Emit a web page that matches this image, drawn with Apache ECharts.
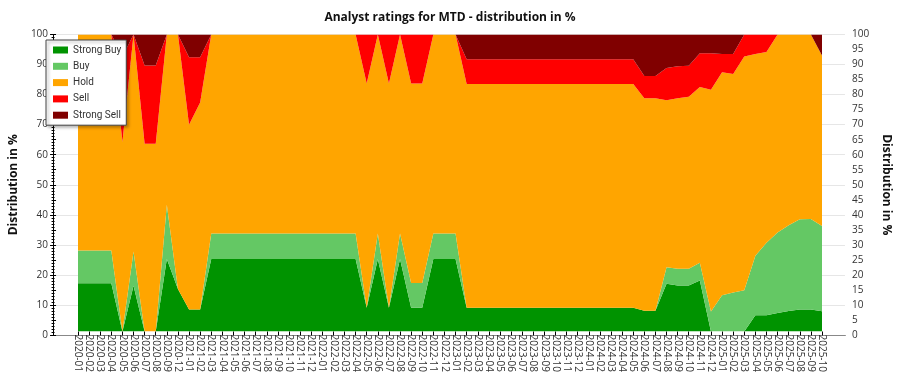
<!DOCTYPE html>
<html>
<head>
<meta charset="utf-8">
<script src="https://cdn.jsdelivr.net/npm/echarts@6/dist/echarts.min.js"></script>
<style>
html,body{margin:0;padding:0;background:#fff;}
#chart{width:900px;height:375px;}
</style>
</head>
<body>
<div id="chart"></div>
<script>
const categories = ["2020-01","2020-02","2020-03","2020-04","2020-05","2020-06","2020-07","2020-08","2020-09","2020-12",
"2021-01","2021-02","2021-03","2021-04","2021-05","2021-06","2021-07","2021-08","2021-09","2021-10","2021-11","2021-12",
"2022-01","2022-02","2022-03","2022-04","2022-05","2022-06","2022-07","2022-08","2022-09","2022-10","2022-11","2022-12",
"2023-01","2023-02","2023-03","2023-04","2023-05","2023-06","2023-07","2023-08","2023-09","2023-10","2023-11","2023-12",
"2024-01","2024-02","2024-03","2024-04","2024-05","2024-06","2024-07","2024-08","2024-09","2024-10","2024-11","2024-12",
"2025-01","2025-02","2025-03","2025-04","2025-05","2025-06","2025-07","2025-08","2025-09","2025-10"];

const strongBuy = [16.2,16.2,16.2,16.2,0,15.4,0,0,24.4,14.3,
7.4,7.4,24.4,24.4,24.4,24.4,24.4,24.4,24.4,24.4,24.4,24.4,
24.4,24.4,24.4,24.4,8.0,24.4,8.0,24.4,8.0,8.0,24.4,24.4,
24.4,8.0,8.0,8.0,8.0,8.0,8.0,8.0,8.0,8.0,8.0,8.0,
8.0,8.0,8.0,8.0,8.0,7.0,7.0,16.1,15.5,15.5,17.2,0,
0,0,0,5.5,5.5,6.2,6.9,7.4,7.4,6.8];

const buy = [11.1,11.1,11.1,11.1,0,11.5,0,0,18.3,0,
0,0,8.6,8.6,8.6,8.6,8.6,8.6,8.6,8.6,8.6,8.6,
8.6,8.6,8.6,8.6,0,8.6,0,8.6,8.3,8.3,8.6,8.6,
8.6,0,0,0,0,0,0,0,0,0,0,0,
0,0,0,0,0,0,0,5.5,5.6,5.6,5.9,6.7,
12.2,13.1,13.9,20.0,24.4,27.1,28.9,30.4,30.5,28.7];

const hold = [72.7,72.7,72.7,72.7,63.8,73.1,63.2,63.2,57.3,85.7,
62.2,69.7,67.0,67.0,67.0,67.0,67.0,67.0,67.0,67.0,67.0,67.0,
67.0,67.0,67.0,67.0,75.5,67.0,75.5,67.0,67.2,67.2,67.0,67.0,
67.0,75.3,75.3,75.3,75.3,75.3,75.3,75.3,75.3,75.3,75.3,75.3,
75.3,75.3,75.3,75.3,75.3,71.5,71.5,56.3,57.4,57.9,59.2,74.7,
75.1,73.6,78.7,67.9,64.2,66.7,64.2,62.2,62.1,57.4];

const sell = [0,0,0,0,28.8,0,26.4,26.4,0,0,
22.7,15.2,0,0,0,0,0,0,0,0,0,0,
0,0,0,0,16.5,0,16.5,0,16.5,16.5,0,0,
0,8.4,8.4,8.4,8.4,8.4,8.4,8.4,8.4,8.4,8.4,8.4,
8.4,8.4,8.4,8.4,8.4,7.5,7.5,10.8,10.8,10.5,11.4,12.3,
6.1,6.7,7.4,6.6,5.9,0,0,0,0,0];

const strongSell = [0,0,0,0,7.4,0,10.4,10.4,0,0,
7.7,7.7,0,0,0,0,0,0,0,0,0,0,
0,0,0,0,0,0,0,0,0,0,0,0,
0,8.3,8.3,8.3,8.3,8.3,8.3,8.3,8.3,8.3,8.3,8.3,
8.3,8.3,8.3,8.3,8.3,14.0,14.0,11.3,10.7,10.5,6.3,6.3,
6.6,6.6,0,0,0,0,0,0,0,7.1];

const seriesNames = ["Strong Buy","Buy","Hold","Sell","Strong Sell"];
const seriesColors = ["#009300","#64c864","#ffa500","#ff0000","#800000"];
const seriesData = [strongBuy, buy, hold, sell, strongSell];
const title = "Analyst ratings for MTD - distribution in %";
const axisName = "Distribution in %";

const FONT = "'Open Sans', 'Noto Sans', sans-serif";
const chart = echarts.init(document.getElementById('chart'), null, {renderer: 'canvas'});

const series = seriesNames.map((n, k) => ({
  name: n,
  type: 'line',
  stack: 'total',
  xAxisIndex: 2,
  yAxisIndex: 2,
  data: seriesData[k],
  showSymbol: false,
  symbol: 'none',
  lineStyle: {width: 0},
  areaStyle: {color: seriesColors[k], opacity: 1},
  color: seriesColors[k],
  animation: false
}));

chart.setOption({
  animation: false,
  textStyle: {fontFamily: FONT},
  title: {
    text: title,
    left: 'center',
    top: 7,
    textStyle: {fontSize: 12, fontWeight: 'bold', color: '#111', fontFamily: FONT}
  },
  legend: {
    orient: 'vertical',
    left: 46,
    top: 40,
    data: seriesNames,
    itemWidth: 15,
    itemHeight: 7,
    itemGap: 4.3,
    padding: [4, 5, 4, 7],
    backgroundColor: '#fff',
    borderColor: '#444',
    borderWidth: 1,
    shadowColor: 'rgba(0,0,0,0.35)',
    shadowBlur: 3,
    shadowOffsetX: 2,
    shadowOffsetY: 2,
    icon: 'rect',
    textStyle: {fontSize: 10, lineHeight: 12, color: '#333', fontFamily: "Roboto, 'Open Sans', sans-serif"},
    selectedMode: false
  },
  grid: [
    {left: 40, right: 41, top: 34.5, bottom: 40},
    {left: 78, right: 78, top: 34.5, bottom: 40}
  ],
  xAxis: [
    {gridIndex: 0, type: 'value', min: 0, max: 1, position: 'bottom',
     axisLine: {show: true, lineStyle: {color: '#000', width: 1}},
     axisTick: {show: false}, axisLabel: {show: false}, splitLine: {show: false}},
    {gridIndex: 0, type: 'value', min: 0, max: 1, position: 'top',
     axisLine: {show: true, lineStyle: {color: '#888', width: 1}},
     axisTick: {show: false}, axisLabel: {show: false}, splitLine: {show: false}},
    {gridIndex: 1, type: 'category', data: categories, boundaryGap: false, position: 'bottom',
     axisLine: {show: false},
     axisTick: {show: true, length: 4, interval: 0, lineStyle: {color: '#000'}},
     axisLabel: {show: true, interval: 0, rotate: -90, fontSize: 10, color: '#333', margin: 3, fontFamily: FONT},
     splitLine: {show: false}}
  ],
  yAxis: [
    {gridIndex: 0, type: 'value', position: 'left', min: 0, max: 100, interval: 10,
     name: axisName, nameLocation: 'middle', nameGap: 29,
     nameTextStyle: {fontSize: 12, fontWeight: 'bold', color: '#111', fontFamily: FONT},
     axisLine: {show: true, lineStyle: {color: '#000'}},
     axisTick: {show: true, length: 3, lineStyle: {color: '#000'}},
     minorTick: {show: true, splitNumber: 10, length: 1.5, lineStyle: {color: '#000'}},
     axisLabel: {fontSize: 10, color: '#333', margin: 5, fontFamily: FONT},
     splitLine: {show: true, lineStyle: {color: '#e6e6e6', width: 1}}},
    {gridIndex: 0, type: 'value', position: 'right', min: 0, max: 100, interval: 5,
     name: axisName, nameLocation: 'middle', nameGap: 28, nameRotate: -90,
     nameTextStyle: {fontSize: 12, fontWeight: 'bold', color: '#111', fontFamily: FONT},
     axisLine: {show: true, lineStyle: {color: '#000'}},
     axisTick: {show: true, length: 3, lineStyle: {color: '#000'}},
     minorTick: {show: true, splitNumber: 5, length: 1.5, lineStyle: {color: '#000'}},
     axisLabel: {fontSize: 10, color: '#333', margin: 7, fontFamily: FONT},
     splitLine: {show: false}},
    {gridIndex: 1, type: 'value', min: 0, max: 100, show: false, splitLine: {show: false}}
  ],
  series: series
});
</script>
</body>
</html>
